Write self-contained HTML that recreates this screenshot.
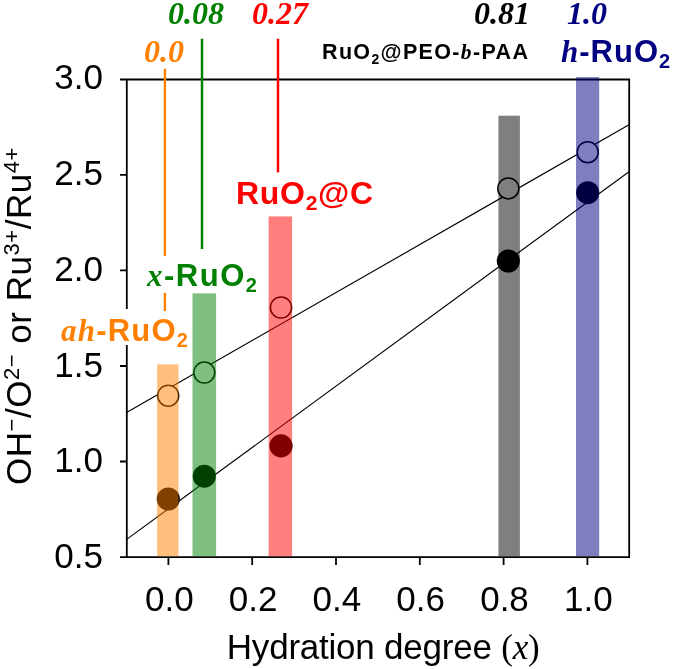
<!DOCTYPE html>
<html><head><meta charset="utf-8"><style>
html,body{margin:0;padding:0;background:#fff;}
svg{display:block;filter:blur(0.4px);}
.sans{font-family:"Liberation Sans",sans-serif;}
.serif{font-family:"Liberation Serif",serif;}
.tk{font-family:"Liberation Sans",sans-serif;font-size:35px;fill:#000;}
.lab{font-family:"Liberation Sans",sans-serif;font-size:31px;font-weight:bold;}
.num{font-family:"Liberation Serif",serif;font-size:32px;font-weight:bold;font-style:italic;}
.it{font-family:"Liberation Serif",serif;font-style:italic;}
</style></head><body>
<svg width="675" height="669" viewBox="0 0 675 669">
<rect width="675" height="669" fill="#fff"/>
<!-- fit lines -->
<line x1="127" y1="412.2" x2="629" y2="124.8" stroke="#000" stroke-width="1.15"/>
<line x1="127" y1="539.1" x2="629" y2="171.7" stroke="#000" stroke-width="1.15"/>
<!-- circles -->
<g stroke-width="1.5" stroke="#000">
<circle cx="168.2" cy="395.7" r="10.5" fill="#fff"/>
<circle cx="168.3" cy="499" r="10.8" fill="#000"/>
<circle cx="204.3" cy="372.6" r="10.5" fill="#fff"/>
<circle cx="204.3" cy="476.2" r="10.8" fill="#000"/>
<circle cx="281" cy="307.5" r="10.6" fill="#fff"/>
<circle cx="281" cy="445.9" r="10.8" fill="#000"/>
<circle cx="508.3" cy="188.4" r="10.5" fill="#fff"/>
<circle cx="508.3" cy="261" r="10.8" fill="#000"/>
<circle cx="587.7" cy="152.2" r="10.5" fill="#fff"/>
<circle cx="587.7" cy="192.7" r="10.8" fill="#000"/>
</g>
<!-- axes -->
<g stroke="#000" stroke-width="1.8" fill="none">
<path d="M120 79.5H629.2V557.1H120M126.8 79.5V557.1"/>
<path d="M120 174.8H127M120 270.4H127M120 366H127M120 461.5H127"/>
<path d="M168.4 557V565M252.2 557V565M336 557V565M419.8 557V565M503.6 557V565M587.4 557V565"/>
</g>
<!-- bars -->
<g fill-opacity="0.5">
<rect x="157.1" y="364.3" width="21.4" height="191.9" fill="#FF8000"/>
<rect x="192.5" y="293.4" width="23.6" height="262.8" fill="#008000"/>
<rect x="268.6" y="216.4" width="23.5" height="339.8" fill="#FF0000"/>
<rect x="498.4" y="115.7" width="21.5" height="440.5" fill="#000000"/>
<rect x="576" y="77.1" width="23.2" height="479.1" fill="#000080"/>
</g>
<!-- y tick labels -->
<g class="tk" text-anchor="end">
<text x="103" y="88.8">3.0</text>
<text x="103" y="184.7">2.5</text>
<text x="103" y="280.6">2.0</text>
<text x="103" y="376.5">1.5</text>
<text x="103" y="472.4">1.0</text>
<text x="103" y="568.3">0.5</text>
</g>
<!-- x tick labels -->
<g class="tk" text-anchor="middle">
<text x="169.3" y="610.5">0.0</text>
<text x="253.1" y="610.5">0.2</text>
<text x="336.9" y="610.5">0.4</text>
<text x="420.7" y="610.5">0.6</text>
<text x="504.5" y="610.5">0.8</text>
<text x="588.3" y="610.5">1.0</text>
</g>
<!-- x axis title -->
<text x="226.8" y="659" class="sans" font-size="35" style="letter-spacing:-0.22px">Hydration degree <tspan class="serif">(<tspan font-style="italic">x</tspan>)</tspan></text>
<!-- y axis title -->
<text transform="translate(31,485) rotate(-90)" class="sans" font-size="35" textLength="337.4" lengthAdjust="spacing">OH<tspan dy="-12" font-size="22">−</tspan><tspan dy="12">/O</tspan><tspan dy="-12" font-size="22">2−</tspan><tspan dy="12"> or Ru</tspan><tspan dy="-12" font-size="22">3+</tspan><tspan dy="12">/Ru</tspan><tspan dy="-12" font-size="22">4+</tspan></text>
<!-- top numbers -->
<text x="168" y="23.6" class="num" fill="#008000">0.08</text>
<text x="252" y="23.6" class="num" fill="#FF0000">0.27</text>
<text x="474" y="23.6" class="num" fill="#000">0.81</text>
<text x="567" y="23.6" class="num" fill="#000080">1.0</text>
<text x="144" y="61.8" class="num" fill="#FF8000">0.0</text>
<!-- labels -->
<text x="322" y="59" class="sans" font-size="21.5" font-weight="bold" style="letter-spacing:1.35px">RuO<tspan dy="5" font-size="14">2</tspan><tspan dy="-5">@PEO-</tspan><tspan class="it">b</tspan>-PAA</text>
<text x="561" y="62" class="lab" fill="#000080" style="letter-spacing:1px"><tspan class="it">h</tspan>-RuO<tspan dy="6" font-size="20">2</tspan></text>
<text x="236" y="204" class="lab" style="font-size:32px;letter-spacing:0.7px" fill="#FF0000">RuO<tspan dy="6" font-size="21">2</tspan><tspan dy="-6">@C</tspan></text>
<rect x="145" y="257" width="115" height="36" fill="#fff"/>
<text x="147" y="285.5" class="lab" fill="#008000" style="letter-spacing:1.5px"><tspan class="it">x</tspan>-RuO<tspan dy="6" font-size="20">2</tspan></text>
<rect x="58" y="309" width="132" height="36" fill="#fff"/>
<text x="61" y="340.6" class="lab" fill="#FF8000" style="letter-spacing:1.2px"><tspan class="it">ah</tspan>-RuO<tspan dy="6" font-size="20">2</tspan></text>
<!-- vertical label lines -->
<path d="M164.9 68.8V256M164.9 293V311" stroke="#FF8000" stroke-width="2.4" fill="none"/>
<path d="M202 38.7V249" stroke="#008000" stroke-width="2.5" fill="none"/>
<path d="M278 38.7V172.4" stroke="#FF0000" stroke-width="2.5" fill="none"/>
</svg>
</body></html>
